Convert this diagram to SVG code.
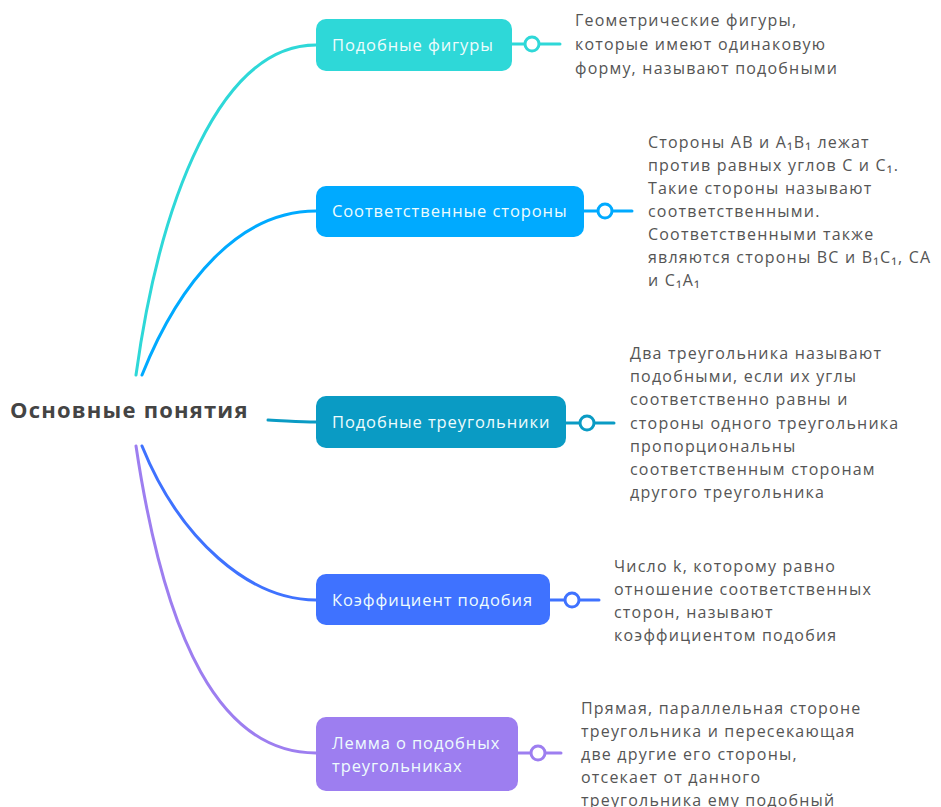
<svg xmlns="http://www.w3.org/2000/svg" width="941" height="807" viewBox="0 0 941 807">
<style>
.node-label{font-family:"Open Sans","Noto Sans",sans-serif;font-size:16.5px;letter-spacing:0.9px;fill:#eefcfd}
.desc{font-family:"Open Sans","Noto Sans",sans-serif;font-size:16px;letter-spacing:1.2px;fill:#555}
.root{font-family:"Open Sans","Noto Sans",sans-serif;font-size:22px;font-weight:bold;letter-spacing:1.2px;fill:#444}
.conn{fill:none;stroke-width:3;stroke-linecap:round}
.dot{fill:#fff;stroke-width:3}
</style>
<rect width="941" height="807" fill="#fff"/>
<g id="connectors">
<path class="conn" stroke="#2ed8d8" d="M136,375 C160,200 220,45 316,45"/>
<path class="conn" stroke="#00aaff" d="M142,375 C180,280 240,211 316,211"/>
<path class="conn" stroke="#0a9bc4" d="M268,420 C290,421 300,422 316,422"/>
<path class="conn" stroke="#3f72ff" d="M142,446 C180,540 250,600 316,600"/>
<path class="conn" stroke="#9d7ef0" d="M136,446 C165,640 220,753 316,753"/>
<path class="conn" stroke="#2ed8d8" d="M512,44 H560"/>
<path class="conn" stroke="#00aaff" d="M584,211 H632"/>
<path class="conn" stroke="#0a9bc4" d="M566,423 H614"/>
<path class="conn" stroke="#3f72ff" d="M550,600 H599"/>
<path class="conn" stroke="#9d7ef0" d="M518,753 H561"/>
</g>
<g id="root">
<text class="root" x="10" y="418">Основные понятия</text>
</g>
<g id="node1">
<rect x="316" y="19" width="196" height="52" rx="10" fill="#2ed8d8"/>
<text class="node-label" x="332" y="51">Подобные фигуры</text>
<circle class="dot" stroke="#2ed8d8" cx="532" cy="44" r="7"/>
<text class="desc" x="575" y="26">Геометрические фигуры,</text>
<text class="desc" x="575" y="50">которые имеют одинаковую</text>
<text class="desc" x="575" y="74">форму, называют подобными</text>
</g>
<g id="node2">
<rect x="316" y="186" width="268" height="51" rx="10" fill="#00aaff"/>
<text class="node-label" x="332" y="217">Соответственные стороны</text>
<circle class="dot" stroke="#00aaff" cx="605" cy="211" r="7"/>
<text class="desc" x="648" y="148">Стороны AB и A₁B₁ лежат</text>
<text class="desc" x="648" y="171">против равных углов C и C₁.</text>
<text class="desc" x="648" y="194">Такие стороны называют</text>
<text class="desc" x="648" y="217">соответственными.</text>
<text class="desc" x="648" y="240">Соответственными также</text>
<text class="desc" x="648" y="263">являются стороны BC и B₁C₁, CA</text>
<text class="desc" x="648" y="286">и C₁A₁</text>
</g>
<g id="node3">
<rect x="316" y="396" width="250" height="52" rx="10" fill="#0a9bc4"/>
<text class="node-label" x="332" y="428">Подобные треугольники</text>
<circle class="dot" stroke="#0a9bc4" cx="587" cy="423" r="7"/>
<text class="desc" x="630" y="359">Два треугольника называют</text>
<text class="desc" x="630" y="382">подобными, если их углы</text>
<text class="desc" x="630" y="405">соответственно равны и</text>
<text class="desc" x="630" y="429">стороны одного треугольника</text>
<text class="desc" x="630" y="452">пропорциональны</text>
<text class="desc" x="630" y="475">соответственным сторонам</text>
<text class="desc" x="630" y="498">другого треугольника</text>
</g>
<g id="node4">
<rect x="316" y="574" width="234" height="51" rx="10" fill="#3f72ff"/>
<text class="node-label" x="332" y="606">Коэффициент подобия</text>
<circle class="dot" stroke="#3f72ff" cx="572" cy="600" r="7"/>
<text class="desc" x="614" y="572">Число k, которому равно</text>
<text class="desc" x="614" y="595">отношение соответственных</text>
<text class="desc" x="614" y="618">сторон, называют</text>
<text class="desc" x="614" y="641">коэффициентом подобия</text>
</g>
<g id="node5">
<rect x="316" y="717" width="202" height="74" rx="10" fill="#9d7ef0"/>
<text class="node-label" x="332" y="749">Лемма о подобных</text>
<text class="node-label" x="332" y="772">треугольниках</text>
<circle class="dot" stroke="#9d7ef0" cx="538" cy="753" r="7"/>
<text class="desc" x="581" y="714">Прямая, параллельная стороне</text>
<text class="desc" x="581" y="737">треугольника и пересекающая</text>
<text class="desc" x="581" y="760">две другие его стороны,</text>
<text class="desc" x="581" y="783">отсекает от данного</text>
<text class="desc" x="581" y="806">треугольника ему подобный</text>
</g>
</svg>
